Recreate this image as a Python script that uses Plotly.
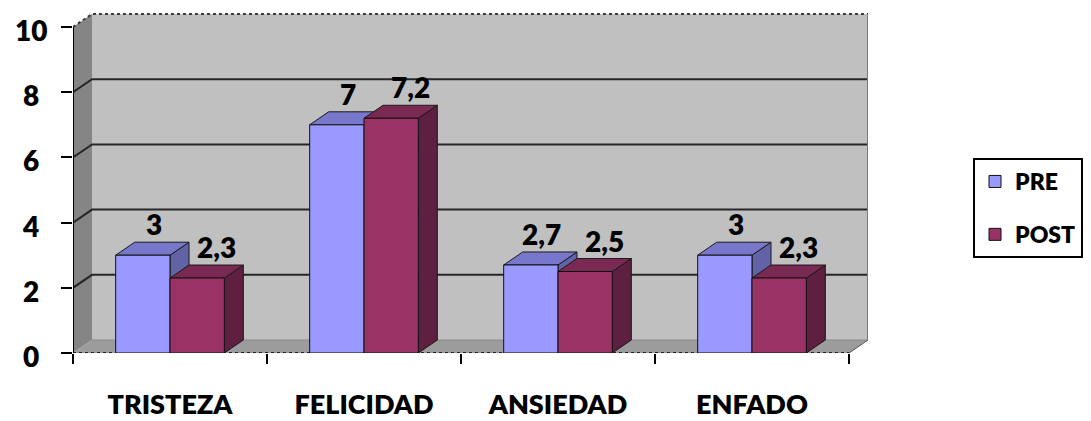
import plotly.graph_objects as go

# ---- data -------------------------------------------------------------
categories = ["TRISTEZA", "FELICIDAD", "ANSIEDAD", "ENFADO"]
pre_values = [3, 7, 2.7, 3]
post_values = [2.3, 7.2, 2.5, 2.3]
y_ticks = [0, 2, 4, 6, 8, 10]

# ---- geometry (pixels -> data units) ----------------------------------
FIG_W, FIG_H = 1091, 421
M_L, M_T, M_B = 73, 13, 68
CAT_PX = 194.0            # width of one category slot
UNIT_PX = 32.6            # height of one value unit
DEPTH_X, DEPTH_Y = 19.0, 13.0
DX = DEPTH_X / CAT_PX     # depth offset along x, in category units
DY = DEPTH_Y / UNIT_PX    # depth offset along y, in value units

n_cat = len(categories)
x_min = -0.5
x_front_max = n_cat - 0.5
x_max = x_front_max + DX
plot_w = (x_max - x_min) * CAT_PX
plot_h = FIG_H - M_T - M_B
y_top = plot_h / UNIT_PX
y_max = max(y_ticks)
M_R = FIG_W - M_L - plot_w

BAR_W = 0.28
FONT = "Lato"
WEIGHT = 800

series = [
    dict(name="PRE", values=pre_values, offset=-BAR_W,
         front="#9999FF", top="#7777CC", side="#6262A6", label_shift=-8),
    dict(name="POST", values=post_values, offset=0.0,
         front="#993366", top="#7A2952", side="#5E1F40", label_shift=0),
]


def fmt(v):
    return f"{v:g}".replace(".", ",")


def path(points):
    return "M " + " L ".join(f"{x},{y}" for x, y in points) + " Z"


def open_path(points):
    return "M " + " L ".join(f"{x},{y}" for x, y in points)


def text_font(size):
    return dict(family=FONT, size=size, color="black", weight=WEIGHT)


shapes = []
# side wall
shapes.append(dict(type="path", xref="x", yref="y", layer="below",
                   path=path([(x_min, 0), (x_min + DX, DY),
                              (x_min + DX, y_max + DY), (x_min, y_max)]),
                   fillcolor="#858585", line=dict(width=0)))
# back wall
shapes.append(dict(type="rect", xref="x", yref="y", layer="below",
                   x0=x_min + DX, x1=x_max, y0=DY, y1=y_max + DY,
                   fillcolor="#C0C0C0", line=dict(width=0)))
# floor
shapes.append(dict(type="path", xref="x", yref="y", layer="below",
                   path=path([(x_min, 0), (x_front_max, 0),
                              (x_max, DY), (x_min + DX, DY)]),
                   fillcolor="#9C9C9C", line=dict(width=0)))
# gridlines running across side wall and back wall
for v in y_ticks[1:-1]:
    shapes.append(dict(type="path", xref="x", yref="y", layer="below",
                       path=open_path([(x_min, v), (x_min + DX, v + DY),
                                       (x_max, v + DY)]),
                       line=dict(color="#262626", width=2)))
# top edge of the walls
shapes.append(dict(type="path", xref="x", yref="y", layer="below",
                   path=open_path([(x_min, y_max), (x_min + DX, y_max + DY),
                                   (x_max, y_max + DY)]),
                   line=dict(color="#3A3A3A", width=2, dash="dot")))
# right edge of back wall
shapes.append(dict(type="line", xref="x", yref="y", layer="below",
                   x0=x_max, x1=x_max, y0=DY, y1=y_max + DY,
                   line=dict(color="#7A7A7A", width=2)))
# floor edges
shapes.append(dict(type="line", xref="x", yref="y", layer="below",
                   x0=x_min + DX, x1=x_max, y0=DY, y1=DY,
                   line=dict(color="#8A8A8A", width=1)))
shapes.append(dict(type="line", xref="x", yref="y", layer="below",
                   x0=x_front_max, x1=x_max, y0=0, y1=DY,
                   line=dict(color="#555555", width=1)))

# top and side faces of each bar
for s in series:
    for i, v in enumerate(s["values"]):
        xl = i + s["offset"]
        xr = xl + BAR_W
        shapes.append(dict(type="path", xref="x", yref="y", layer="below",
                           path=path([(xr, 0), (xr + DX, DY),
                                      (xr + DX, v + DY), (xr, v)]),
                           fillcolor=s["side"],
                           line=dict(color="#1A1A1A", width=1)))
        shapes.append(dict(type="path", xref="x", yref="y", layer="below",
                           path=path([(xl, v), (xr, v),
                                      (xr + DX, v + DY), (xl + DX, v + DY)]),
                           fillcolor=s["top"],
                           line=dict(color="#1A1A1A", width=1)))

# front axis lines
shapes.append(dict(type="line", xref="x", yref="y", layer="above",
                   x0=x_min, x1=x_min, y0=0, y1=y_max,
                   line=dict(color="black", width=2)))
shapes.append(dict(type="line", xref="x", yref="y", layer="below",
                   x0=x_min, x1=x_front_max, y0=0, y1=0,
                   line=dict(color="#222222", width=2, dash="dot")))

fig = go.Figure()
for s in series:
    fig.add_trace(go.Bar(
        name=s["name"],
        x=list(range(n_cat)), y=s["values"],
        width=[BAR_W] * n_cat, offset=[s["offset"]] * n_cat,
        marker=dict(color=s["front"], line=dict(color="#111111", width=1)),
        legendgroup=s["name"], hoverinfo="skip",
    ))

annotations = []
# value labels above each bar
for s in series:
    for i, v in enumerate(s["values"]):
        annotations.append(dict(
            x=i + s["offset"] + BAR_W / 2 + DX, y=v + DY,
            xref="x", yref="y", text=fmt(v),
            showarrow=False, xanchor="center", yanchor="bottom",
            xshift=s["label_shift"], yshift=-1,
            font=text_font(28)))
# value axis labels, centred left of the tick marks
for t in y_ticks:
    annotations.append(dict(
        x=(31 - M_L) / plot_w, y=t, xref="paper", yref="y",
        text=str(t), showarrow=False,
        xanchor="center", yanchor="middle", yshift=-3,
        font=text_font(28)))

fig.update_layout(
    width=FIG_W, height=FIG_H,
    margin=dict(l=M_L, r=M_R, t=M_T, b=M_B, pad=0, autoexpand=False),
    paper_bgcolor="white", plot_bgcolor="white",
    barmode="overlay",
    shapes=shapes, annotations=annotations,
    showlegend=True,
    legend=dict(
        x=(973 - M_L) / plot_w, y=(353 - 158) / plot_h,
        xanchor="left", yanchor="top",
        bgcolor="white", bordercolor="black", borderwidth=2,
        font=text_font(23),
        tracegroupgap=20, traceorder="grouped",
    ),
    xaxis=dict(
        range=[x_min, x_max], tickmode="array",
        tickvals=list(range(n_cat)), ticktext=categories,
        ticks="", showgrid=False, zeroline=False, showline=False,
        tickfont=text_font(27),
        ticklabelstandoff=33, automargin=False,
        minor=dict(tickmode="array",
                   tickvals=[i - 0.5 for i in range(n_cat + 1)],
                   ticks="outside", ticklen=10, tickwidth=2,
                   tickcolor="black", showgrid=False),
    ),
    yaxis=dict(
        range=[0, y_top], tickmode="array", tickvals=y_ticks,
        ticks="outside", ticklen=11, tickwidth=2, tickcolor="black",
        showticklabels=False, showgrid=False, zeroline=False,
        showline=False, automargin=False,
    ),
)

fig.write_html("out.html")
